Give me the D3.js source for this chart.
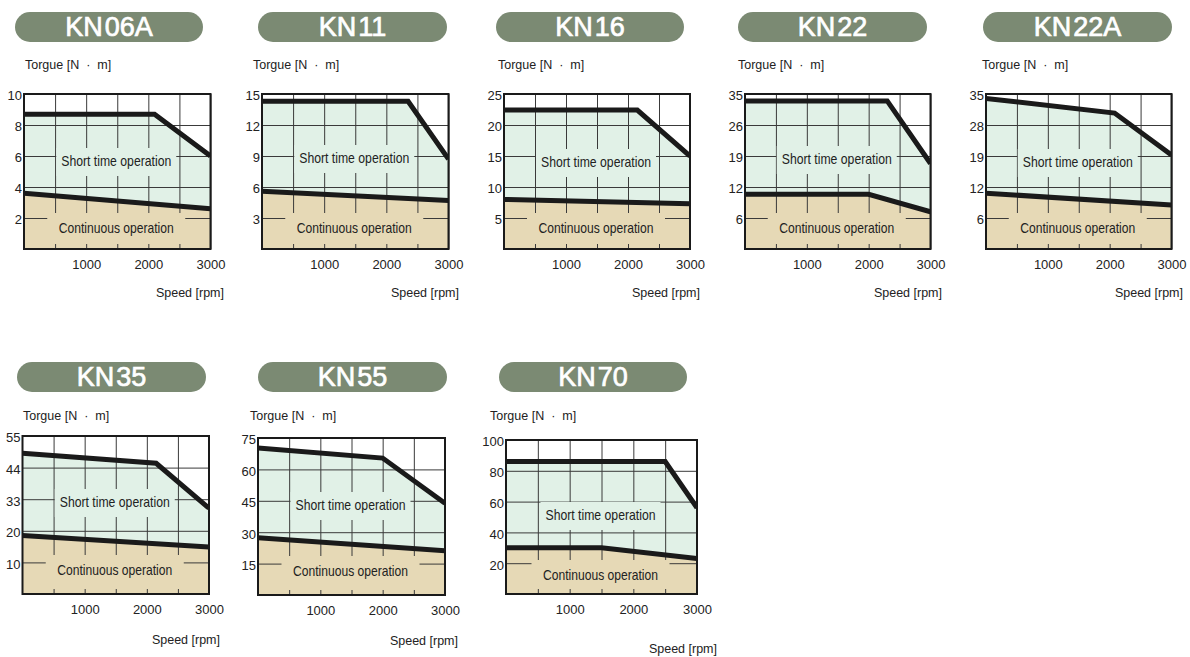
<!DOCTYPE html>
<html><head><meta charset="utf-8">
<script src="https://cdn.jsdelivr.net/npm/d3@7"></script>
<style>
html,body{margin:0;padding:0;background:#fff;}
svg{display:block;font-family:"Liberation Sans",Arial,Helvetica,sans-serif;}
</style></head>
<body><svg id="chart" width="1190" height="657"></svg>
<script>
// ---------------- data ----------------
const models = ["KN06A","KN11","KN16","KN22","KN22A","KN35","KN55","KN70"];
const torqueTicks = [
  [2,4,6,8,10],
  [3,6,9,12,15],
  [5,10,15,20,25],
  [6,12,19,26,35],
  [6,12,19,28,35],
  [10,20,33,44,55],
  [15,30,45,60,75],
  [20,40,60,80,100]
];
const speedGrid = [500,1000,1500,2000,2500,3000];
const speedLabels = [1000,2000,3000];
// [speed rpm, torque N·m]
const shortTime = [
  [[0,8.7],[2100,8.7],[3000,6.0]],
  [[0,14.3],[2350,14.3],[3000,8.7]],
  [[0,22.4],[2150,22.4],[3000,15.0]],
  [[0,33],[2300,33],[3000,17.3]],
  [[0,34],[2080,30.7],[3000,19.3]],
  [[0,49],[2150,45.5],[3000,29.3]],
  [[0,70.2],[2000,65.4],[3000,43.8]],
  [[0,86],[2500,86],[3000,56]]
];
const continuous = [
  [[0,3.6],[3000,2.6]],
  [[0,5.6],[3000,4.7]],
  [[0,8.0],[3000,7.3]],
  [[0,10.6],[2000,10.6],[3000,7.2]],
  [[0,10.8],[3000,8.5]],
  [[0,18.5],[3000,14.9]],
  [[0,27.4],[3000,21.1]],
  [[0,30],[1500,30],[3000,23]]
];
const yTitle = "Torgue [N  ·  m]";
const xTitle = "Speed [rpm]";
const shortLabel = "Short time operation";
const contLabel = "Continuous operation";

// ---------------- layout ----------------
const layout = [
  {x0:24,  x1:210.5, y0:94,  y1:249, pill:[15,203,12],  ty:[25,69],  sp:[224,297],  sy:67, cy:21},
  {x0:262, x1:448.5, y0:94,  y1:249, pill:[258,447,12], ty:[253,69], sp:[459,297],  sy:64, cy:21},
  {x0:504, x1:690,   y0:94,  y1:249, pill:[496,684,12], ty:[498,69], sp:[700,297],  sy:68, cy:21},
  {x0:745, x1:930.5, y0:94,  y1:249, pill:[738,927,12], ty:[738,69], sp:[942,297],  sy:65, cy:21},
  {x0:986, x1:1171.5,y0:94,  y1:249, pill:[983,1172,12],ty:[982,69], sp:[1183,297], sy:68, cy:21},
  {x0:22.5,x1:209,   y0:436, y1:594, pill:[17,206,362], ty:[23,420], sp:[220,644],  sy:66, cy:24},
  {x0:258, x1:445,   y0:438, y1:595, pill:[258,447,362],ty:[250,420],sp:[458,645],  sy:67, cy:24},
  {x0:506, x1:697,   y0:440, y1:594, pill:[499,687,362],ty:[490,420],sp:[717,653],  sy:75, cy:19}
];

const C = {pill:"#7b8a73", mint:"#e1f1e7", tan:"#e6d9b6", grid:"#3a3a3a", text:"#222"};

const svg = d3.select("#chart");
const defs = svg.append("defs");

models.forEach((name,i)=>{
  const L = layout[i];
  const w = L.x1-L.x0, h = L.y1-L.y0;
  const g = svg.append("g");

  // title pill
  const [pl,pr,pt] = L.pill;
  g.append("rect").attr("x",pl).attr("y",pt).attr("width",pr-pl).attr("height",30)
    .attr("rx",15).attr("fill",C.pill);
  const tt = g.append("text").attr("x",(pl+pr)/2).attr("y",pt+24).attr("text-anchor","middle")
    .attr("fill","#fff").attr("stroke","#fff").attr("stroke-width",0.7)
    .attr("font-size",27).attr("font-weight","normal");
  tt.append("tspan").text(name.slice(0,2));
  tt.append("tspan").attr("dx",2).text(name.slice(2));

  g.append("text").attr("x",L.ty[0]).attr("y",L.ty[1]).attr("font-size",12.5)
    .attr("fill",C.text).style("white-space","pre").text(yTitle);
  g.append("text").attr("x",L.sp[0]).attr("y",L.sp[1]).attr("font-size",12.5)
    .attr("text-anchor","end").attr("fill",C.text).text(xTitle);

  const x = d3.scaleLinear().domain([0,3000]).range([L.x0,L.x1]);
  const yd = [0].concat(torqueTicks[i]);
  const y = d3.scaleLinear().domain(yd).range(yd.map((d,k)=>L.y1 - k*h/5));

  const area = d3.area().x(d=>x(d[0])).y0(y(0)).y1(d=>y(d[1]));
  g.append("path").datum(shortTime[i]).attr("d",area).attr("fill",C.mint);
  g.append("path").datum(continuous[i]).attr("d",area).attr("fill",C.tan);

  // grid via axes
  const ya = g.append("g").attr("transform",`translate(${L.x0},0)`)
    .call(d3.axisLeft(y).tickValues(torqueTicks[i]).tickSize(-w).tickPadding(2));
  const xa = g.append("g").attr("transform",`translate(0,${L.y1})`)
    .call(d3.axisBottom(x).tickValues(speedGrid).tickSize(-h).tickPadding(10.5)
      .tickFormat(d=> speedLabels.includes(d) ? d : ""));
  [ya,xa].forEach(a=>{
    a.select(".domain").remove();
    a.selectAll("line").attr("stroke",C.grid).attr("stroke-width",1);
    a.selectAll("text").attr("fill",C.text).attr("font-size",13)
      .attr("font-family",'"Liberation Sans",Arial,sans-serif');
  });
  ya.selectAll("text").attr("dy","0.45em");

  // operation labels with background boxes
  const cx = (L.x0+L.x1)/2 - 1;
  const sy = L.y0 + L.sy;
  g.append("rect").attr("x",cx-60).attr("y",sy-13).attr("width",120).attr("height",28).attr("fill",C.mint);
  g.append("text").attr("x",cx).attr("y",sy).attr("dy","0.36em").attr("text-anchor","middle")
    .attr("font-size",15).attr("fill",C.text)
    .attr("textLength",110).attr("lengthAdjust","spacingAndGlyphs").text(shortLabel);
  const cy = L.y1 - L.cy;
  g.append("rect").attr("x",cx-69).attr("y",cy-15).attr("width",138).attr("height",(L.y1-5)-(cy-15)).attr("fill",C.tan);
  g.append("text").attr("x",cx).attr("y",cy).attr("dy","0.36em").attr("text-anchor","middle")
    .attr("font-size",15).attr("fill",C.text)
    .attr("textLength",115).attr("lengthAdjust","spacingAndGlyphs").text(contLabel);

  // curves
  defs.append("clipPath").attr("id","clip"+i).append("rect")
    .attr("x",L.x0).attr("y",L.y0).attr("width",w).attr("height",h);
  const line = d3.line().x(d=>x(d[0])).y(d=>y(d[1]));
  [shortTime[i],continuous[i]].forEach(s=>{
    g.append("path").datum(s).attr("d",line).attr("fill","none").attr("stroke","#1a1a1a")
      .attr("stroke-width",5).attr("stroke-linejoin","miter").attr("clip-path",`url(#clip${i})`);
  });

  // frame
  g.append("rect").attr("x",L.x0).attr("y",L.y0).attr("width",w).attr("height",h)
    .attr("fill","none").attr("stroke","#1a1a1a").attr("stroke-width",2);
});
</script>
</body></html>
